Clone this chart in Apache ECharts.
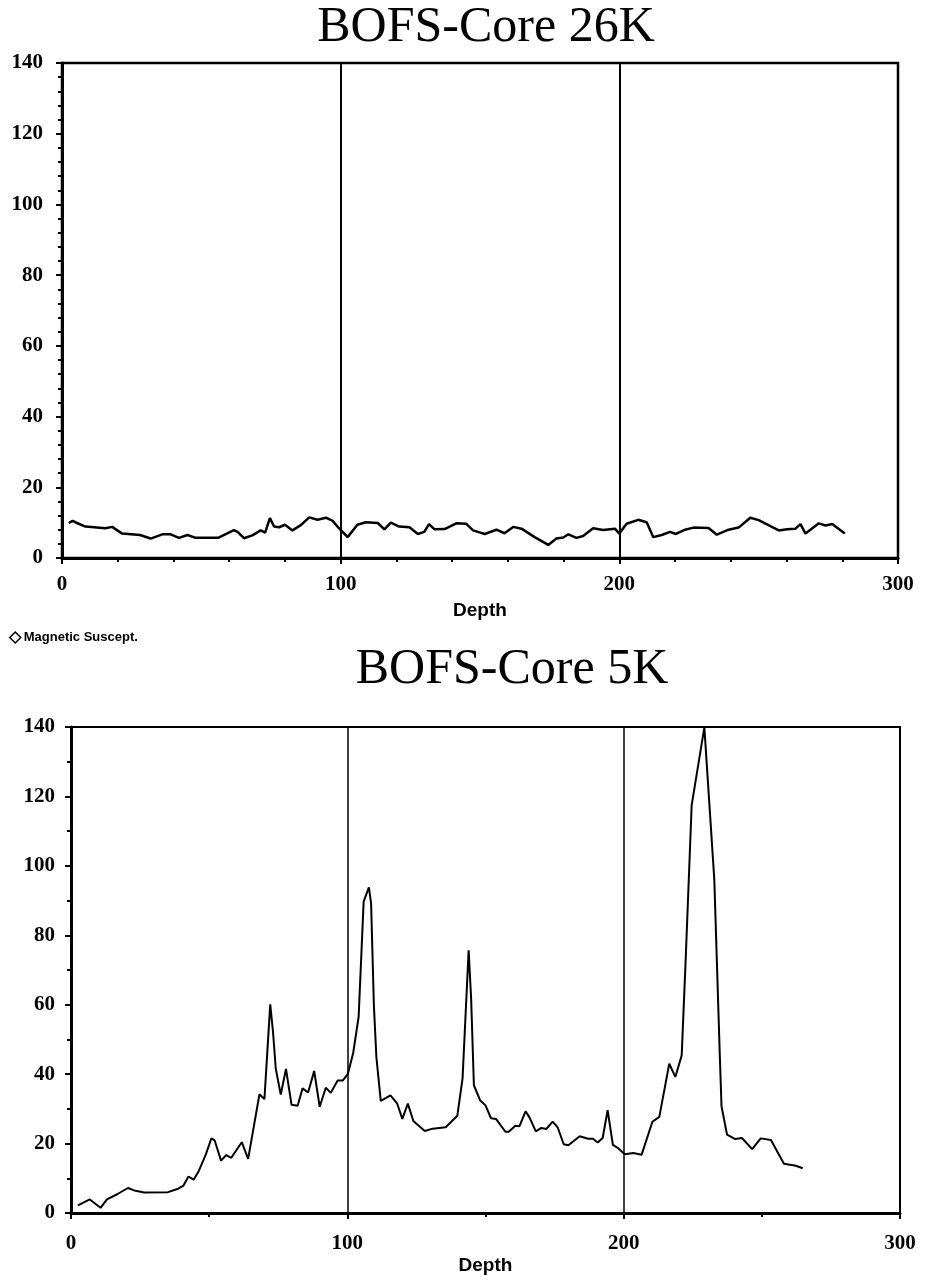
<!DOCTYPE html>
<html>
<head>
<meta charset="utf-8">
<script src="https://cdn.jsdelivr.net/npm/echarts@6/dist/echarts.min.js"></script>
<style>html,body{margin:0;padding:0;background:#fff;}#c{width:929px;height:1276px;}</style>
</head>
<body>
<div id="c"></div>
<script>
// ---- Data ----
const titles = ['BOFS-Core 26K', 'BOFS-Core 5K'];
const seriesName = 'Magnetic Suscept.';
const xTicks = [0, 100, 200, 300];
const yTicks = [0, 20, 40, 60, 80, 100, 120, 140];

const depth26K = [2.4,3.8,5.4,8.4,15.6,18,21.6,28,31.8,36,39,42,45,48,56,61.7,63,65.3,68.3,71.3,72.9,74.6,76.1,77.9,80,82.7,85.7,88.7,91.7,94.7,97.1,99.3,102.5,106,109,113.3,115.7,118,121,124.7,127.7,130,131.7,133.7,137.3,141.5,145,147.5,151.7,155.9,158.8,161.9,164.9,169.6,174.5,177.4,179.9,181.7,184.6,187,190.6,194.2,198.4,200,202.6,206.8,209.8,212.2,215.2,218.2,220.3,223.6,226.6,232,235,239.2,242.8,247,250,257.2,260.2,263.2,265,266.8,271.6,274,276.4,280.9];
const susc26K = [9.9,10.5,9.9,8.9,8.4,8.8,6.9,6.5,5.5,6.7,6.7,5.7,6.5,5.7,5.7,7.9,7.4,5.6,6.4,7.8,7.2,11.3,8.9,8.7,9.4,7.8,9.3,11.5,10.8,11.4,10.5,8.5,5.9,9.4,10.1,9.9,8.1,10,8.9,8.7,6.8,7.4,9.6,8.1,8.2,9.8,9.7,7.8,6.8,8.0,7.0,8.8,8.3,5.9,3.7,5.5,5.8,6.7,5.7,6.2,8.4,7.9,8.3,6.9,9.7,10.8,10.1,5.9,6.5,7.4,6.8,8.0,8.6,8.5,6.6,8.0,8.6,11.4,10.7,7.8,8.1,8.3,9.6,6.9,9.8,9.2,9.6,6.9];

const depth5K = [2.5,6.8,10.7,13,16.7,20.6,22.9,26.5,35.1,38.8,40.7,42.5,44.4,46.3,48.8,50.8,52,54.3,56.2,58,61.8,64.1,68.2,70,72.1,73.1,74.1,75.9,77.8,79.8,82,83.8,85.8,88,90,92.2,94,96.5,98.4,100.2,102.1,104.1,105.9,107.8,108.6,109.6,110.5,112.1,115.6,118,119.9,121.9,123.9,128,130.9,135.6,139.8,141.7,143.9,144.8,145.8,148.1,150,152,153.8,157.2,158.4,160.8,162.3,164.5,166,168.2,170.2,172,174.3,176.1,178.3,180,184.1,187.1,188.9,190.6,192.4,194.2,196.1,198.1,200.4,203.5,206.5,210.4,212.9,216.5,218.7,221,222.5,224.6,229.2,232.8,234.8,235.4,237.4,240.4,242.8,246.5,249.6,253.3,258,262.3,264.8];
const susc5K = [2.2,3.9,1.5,3.9,5.4,7.2,6.5,5.9,6.0,7.0,7.9,10.5,9.6,12.2,16.9,21.5,20.9,15.1,16.7,15.9,20.4,15.6,34.2,32.8,60.1,52.2,41.6,34.1,41.5,31.2,30.9,35.9,34.7,40.9,30.6,36.1,34.6,38.2,38.2,40.1,46,56.6,89.7,93.8,89.2,60,45,32.3,33.9,31.6,27.1,31.5,26.5,23.6,24.3,24.7,28,38.8,75.7,61.8,36.8,32.4,31,27.3,27.1,23.4,23.4,25.1,25,29.3,27.4,23.5,24.5,24.2,26.3,24.7,19.8,19.5,22.1,21.4,21.4,20.3,21.6,29.6,19.6,18.6,16.9,17.3,16.8,26.3,27.7,43,39.2,45.4,74.2,117.4,139.9,96.1,45.2,30.8,22.6,21.3,21.6,18.4,21.5,21,14.2,13.6,12.9];

// ---- Build ----
const pairs = (xs, ys) => xs.map((x, i) => [x, ys[i]]);
const labelFont = { fontFamily: 'Liberation Serif', fontWeight: 'bold', fontSize: 21, color: '#000' };

function xAxisFor(gridIndex, minorSplit, lw, splitW, labelMargin, nameGap) {
  return {
    gridIndex, type: 'value', min: xTicks[0], max: xTicks[xTicks.length - 1], interval: 100,
    name: 'Depth', nameLocation: 'middle', nameGap: nameGap,
    nameTextStyle: { fontFamily: 'Liberation Sans', fontWeight: 'bold', fontSize: 19, color: '#000' },
    axisLine: { show: true, onZero: false, lineStyle: { color: '#000', width: lw } },
    axisTick: { show: true, inside: false, length: 6, lineStyle: { color: '#000', width: 2 } },
    minorTick: { show: true, splitNumber: minorSplit, length: 4, lineStyle: { color: '#000', width: 2 } },
    axisLabel: Object.assign({ margin: labelMargin }, labelFont),
    splitLine: { show: true, lineStyle: { color: '#000', width: splitW } },
    minorSplitLine: { show: false }
  };
}
function yAxisFor(gridIndex, minorSplit, lw, labelMargin) {
  return {
    gridIndex, type: 'value', min: yTicks[0], max: yTicks[yTicks.length - 1], interval: 20,
    axisLine: { show: true, onZero: false, lineStyle: { color: '#000', width: lw } },
    axisTick: { show: true, inside: false, length: 6, lineStyle: { color: '#000', width: 2 } },
    minorTick: { show: true, splitNumber: minorSplit, length: 4, lineStyle: { color: '#000', width: 2 } },
    axisLabel: Object.assign({ margin: labelMargin }, labelFont),
    splitLine: { show: false }
  };
}

const chart = echarts.init(document.getElementById('c'), null, { renderer: 'canvas' });
chart.setOption({
  backgroundColor: '#fff',
  animation: false,
  title: [
    { text: titles[0], left: 481, top: -2, textAlign: 'center',
      textStyle: { fontFamily: 'Liberation Serif', fontWeight: 'normal', fontSize: 50, color: '#000' } },
    { text: titles[1], left: 507, top: 640, textAlign: 'center',
      textStyle: { fontFamily: 'Liberation Serif', fontWeight: 'normal', fontSize: 50, color: '#000' } }
  ],
  legend: {
    left: 4, top: 626, icon: 'diamond', itemWidth: 11, itemHeight: 11, itemGap: 6,
    data: [seriesName],
    itemStyle: { color: '#fff', borderColor: '#000', borderWidth: 1.5 },
    textStyle: { fontFamily: 'Liberation Sans', fontWeight: 'bold', fontSize: 13, color: '#000', padding: [0, 0, 0, -2] }
  },
  grid: [
    { left: 62, right: 31, top: 63, height: 495, show: true, borderColor: '#000', borderWidth: 2.5, backgroundColor: 'transparent' },
    { left: 71, right: 29, top: 727, height: 486, show: true, borderColor: '#000', borderWidth: 2, backgroundColor: 'transparent' }
  ],
  xAxis: [ xAxisFor(0, 5, 3, 2, 16, 43), xAxisFor(1, 2, 3, 1.5, 20, 43) ],
  yAxis: [ yAxisFor(0, 5, 3, 19), yAxisFor(1, 2, 3, 16) ],
  series: [
    { name: seriesName, type: 'line', xAxisIndex: 0, yAxisIndex: 0, data: pairs(depth26K, susc26K),
      showSymbol: false, symbol: 'none', lineStyle: { color: '#000', width: 2.5 }, itemStyle: { color: '#000' } },
    { name: seriesName, type: 'line', xAxisIndex: 1, yAxisIndex: 1, data: pairs(depth5K, susc5K),
      showSymbol: false, symbol: 'none', lineStyle: { color: '#000', width: 2 }, itemStyle: { color: '#000' } }
  ]
});
</script>
</body>
</html>
